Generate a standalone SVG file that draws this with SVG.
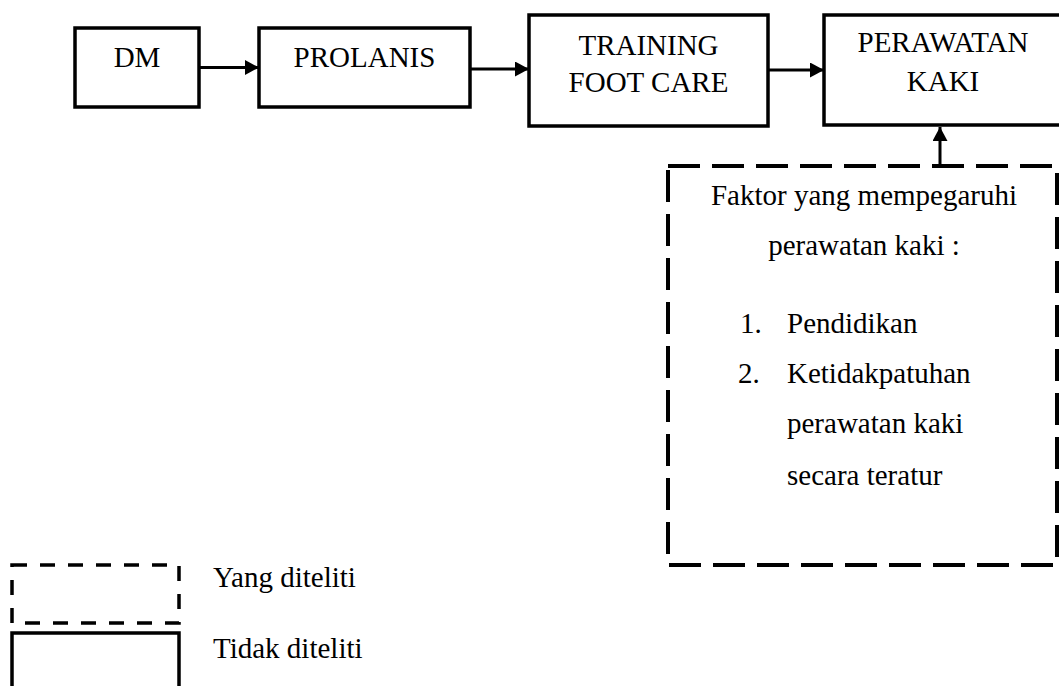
<svg xmlns="http://www.w3.org/2000/svg" width="1059" height="686" viewBox="0 0 1059 686">
<style>
.box{fill:#fff;stroke:#000;stroke-width:3.5}
.dash{fill:none;stroke:#000;stroke-width:4;stroke-dasharray:32 12}
.ldash{fill:none;stroke:#000;stroke-width:3.5;stroke-dasharray:15 13}
.conn{fill:none;stroke:#000;stroke-width:3}
text{font-family:"Liberation Serif","Times New Roman",serif;font-size:29px;fill:#000}
.c{text-anchor:middle}
</style>
<defs>
<marker id="ah" markerUnits="userSpaceOnUse" markerWidth="15" markerHeight="16" refX="14" refY="7.5" orient="auto">
<path d="M0,0 L14,7.5 L0,15 Z" fill="#000"/>
</marker>
</defs>
<rect width="1059" height="686" fill="#fff"/>
<g id="connectors">
<line class="conn" x1="199" y1="67.5" x2="259" y2="67.5" marker-end="url(#ah)"/>
<line class="conn" x1="470" y1="69" x2="529" y2="69" marker-end="url(#ah)"/>
<line class="conn" x1="768" y1="70" x2="824" y2="70" marker-end="url(#ah)"/>
<line class="conn" x1="940" y1="166" x2="940" y2="127" marker-end="url(#ah)"/>
</g>
<g id="dm">
<rect class="box" x="75" y="28" width="124" height="79"/>
<text class="c" x="137" y="67">DM</text>
</g>
<g id="prolanis">
<rect class="box" x="259" y="28" width="211" height="79"/>
<text class="c" x="364.5" y="67">PROLANIS</text>
</g>
<g id="training">
<rect class="box" x="529" y="15" width="239" height="111"/>
<text class="c" x="648.5" y="55">TRAINING</text>
<text class="c" x="648.5" y="92">FOOT CARE</text>
</g>
<g id="perawatan">
<rect class="box" x="824" y="15" width="238" height="110"/>
<text class="c" x="943" y="52">PERAWATAN</text>
<text class="c" x="943" y="91">KAKI</text>
</g>
<g id="faktor">
<rect class="dash" x="668" y="166" width="389" height="399"/>
<text class="c" x="864" y="205">Faktor yang mempegaruhi</text>
<text class="c" x="864" y="255">perawatan kaki :</text>
<text x="740" y="333">1.</text>
<text x="787" y="333">Pendidikan</text>
<text x="738" y="383">2.</text>
<text x="787" y="383">Ketidakpatuhan</text>
<text x="787" y="433">perawatan kaki</text>
<text x="787" y="485">secara teratur</text>
</g>
<g id="legend-dashed">
<rect class="ldash" x="12" y="565" width="167" height="58"/>
<text x="213" y="587">Yang diteliti</text>
</g>
<g id="legend-solid">
<rect class="box" x="12" y="633" width="167" height="70"/>
<text x="213" y="658">Tidak diteliti</text>
</g>
</svg>
